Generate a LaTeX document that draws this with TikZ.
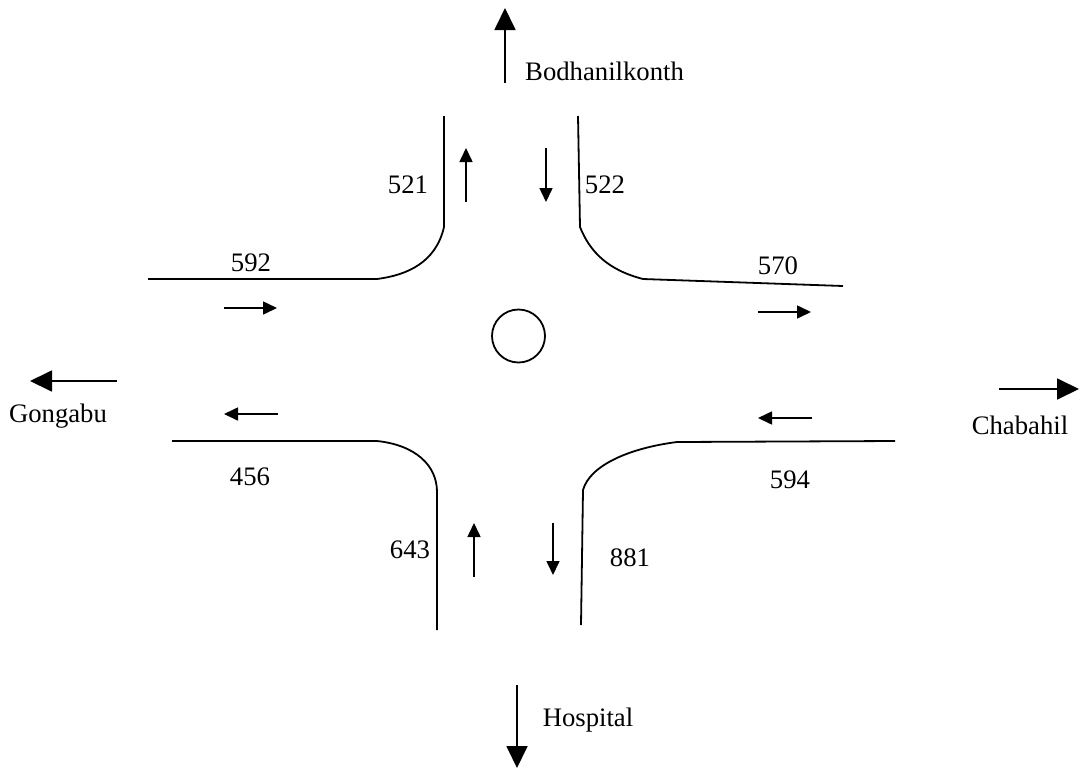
\documentclass[tikz,border=0pt]{standalone}
\usepackage{fontspec}
\setmainfont{Liberation Serif}
\usetikzlibrary{arrows.meta}
\begin{document}
\begin{tikzpicture}[x=1pt,y=-1pt,
  road/.style={line width=1.8pt,line join=round},
  smallarr/.style={line width=1.6pt,-{Triangle[length=14pt,width=13pt]}},
  bigarr/.style={line width=1.8pt,-{Triangle[length=22pt,width=21pt]}},
  lbl/.style={font=\fontsize{26.7}{32}\selectfont,inner sep=0pt}]
\useasboundingbox (0,0) rectangle (1084,774);
% roads
\draw[road] (148,279) -- (377,279) .. controls (408,275) and (436,262) .. (444,227) -- (444,116);
\draw[road] (578,116) -- (580,227) .. controls (590,252) and (608,270) .. (643,279) -- (843,286);
\draw[road] (172,441) -- (377,441) .. controls (415,445) and (437,465) .. (437,492) -- (437,630);
\draw[road] (895,441) -- (677,442) .. controls (630,448) and (590,465) .. (583,490) -- (581,625);
% roundabout
\node[draw,circle,line width=1.8pt,minimum size=53pt,inner sep=0pt] (rb) at (518.5,336) {};
% big arrows
\coordinate (nS) at (505,83); \coordinate (nE) at (505,8);
\coordinate (wS) at (117,381); \coordinate (wE) at (30,381);
\coordinate (eS) at (999,389); \coordinate (eE) at (1079,389);
\coordinate (sS) at (517,685); \coordinate (sE) at (517,768);
\draw[bigarr] (nS) -- (nE);
\draw[bigarr] (wS) -- (wE);
\draw[bigarr] (eS) -- (eE);
\draw[bigarr] (sS) -- (sE);
% small arrows
\draw[smallarr] (466,202) -- (466,148);
\draw[smallarr] (546,148) -- (546,202);
\draw[smallarr] (224,308) -- (277,308);
\draw[smallarr] (278,414) -- (224,414);
\draw[smallarr] (758,312) -- (811,312);
\draw[smallarr] (812,418) -- (758,418);
\draw[smallarr] (474,577) -- (474,523);
\draw[smallarr] (553,523) -- (553,575);
% labels
\node[lbl,anchor=west] (bod) at (525,71) {Bodhanilkonth};
\node[lbl] (gon) at (58,416) {Gongabu};
\node[lbl] (cha) at (1020,425) {Chabahil};
\node[lbl] (hos) at (588,720) {Hospital};
\node[lbl] (n521) at (408,185) {521};
\node[lbl] (n522) at (605,185) {522};
\node[lbl] (n592) at (251,263) {592};
\node[lbl] (n570) at (778,266) {570};
\node[lbl] (n456) at (250,477) {456};
\node[lbl] (n594) at (790,480) {594};
\node[lbl] (n643) at (410,550) {643};
\node[lbl] (n881) at (630,558) {881};
\end{tikzpicture}
\end{document}
